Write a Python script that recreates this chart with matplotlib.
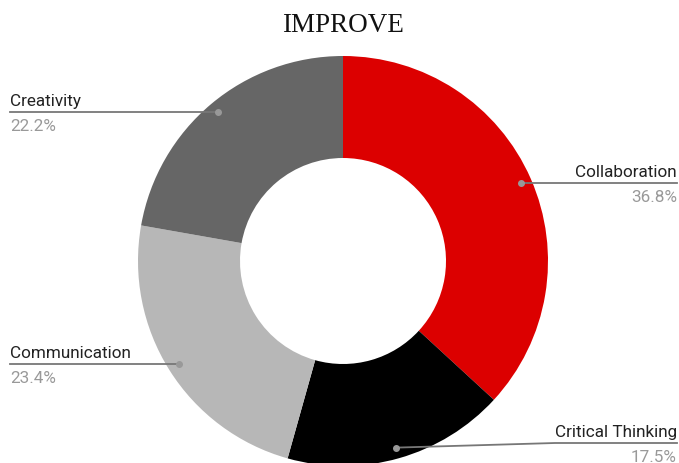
#!/usr/bin/env python3

import numpy as np
import matplotlib.pyplot as plt

labels = ["Collaboration", "Critical Thinking", "Communication", "Creativity"]
shares = [36.8, 17.5, 23.4, 22.2]
colors = ["#dc0000", "#000000", "#b7b7b7", "#666666"]
title = "IMPROVE"

W, H = 679, 464


def main():
    fig = plt.figure(figsize=(W / 100, H / 100), dpi=100)
    ax = fig.add_axes([0, 0, 1, 1])
    ax.axis("off")

    cx, cy, r = 343, H - 262, 205
    ax.pie(shares, colors=colors, startangle=90, counterclock=False,
           center=(cx, cy), radius=r, wedgeprops=dict(width=102, linewidth=0))
    ax.set_xlim(0, W)
    ax.set_ylim(0, H)
    ax.set_aspect("equal")

    fig.text(343 / W, 1 - 25 / H, title, ha="center", va="center",
             fontsize=19.5, family="Liberation Serif", color="#111111")

    # leader lines and labels
    total = sum(shares)
    cum = np.cumsum([0] + shares[:-1])
    for i, (lab, s) in enumerate(zip(labels, shares)):
        frac = (cum[i] + s / 2) / total
        ang = np.radians(90 - 360 * frac)
        dx, dy = cx + 194 * np.cos(ang), cy + 194 * np.sin(ang)
        ly = dy
        if lab == "Critical Thinking":
            # label pushed up so it stays inside the picture
            ly = H - 444
        if np.cos(ang) > 0:
            if ly != dy:
                ax.plot([dx, 555, 677], [dy, ly, ly], color="#777777", lw=1.3)
            else:
                ax.plot([dx, 677], [dy, ly], color="#777777", lw=1.3)
            tx, ha = 677, "right"
        else:
            ax.plot([10, dx], [ly, dy], color="#777777", lw=1.3)
            tx, ha = 10, "left"
        ax.plot(dx, dy, "o", color="#999999", ms=4)
        ax.text(tx, ly + 4, lab, ha=ha, va="bottom", fontsize=12.3,
                family="Roboto", color="#222222")
        ax.text(tx, ly - 6, f"{s}%", ha=ha, va="top", fontsize=12.3,
                family="Roboto", color="#999999")

    plt.savefig("out.png", dpi=100)


if __name__ == "__main__":
    main()
